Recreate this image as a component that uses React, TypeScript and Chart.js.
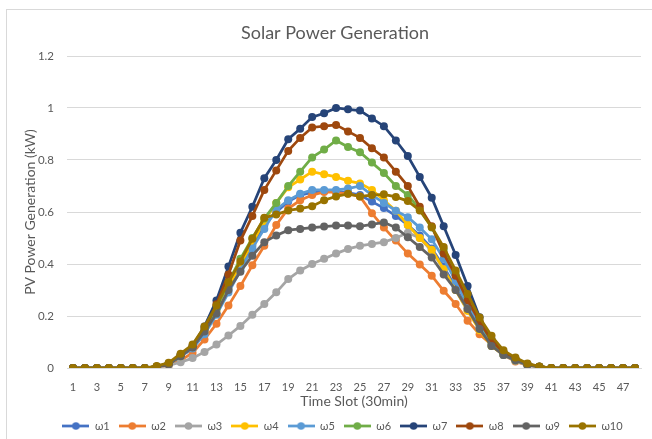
import React, { useEffect, useRef } from "react";
import { Chart, registerables } from "chart.js";

Chart.register(...registerables);

const chartTitle = "Solar Power Generation";

const timeSlots = ["1","2","3","4","5","6","7","8","9","10","11","12","13","14","15","16","17","18","19","20","21","22","23","24","25","26","27","28","29","30","31","32","33","34","35","36","37","38","39","40","41","42","43","44","45","46","47","48"];

const yTicks = [0, 0.2, 0.4, 0.6, 0.8, 1, 1.2];

const seriesNames = ["ω1","ω2","ω3","ω4","ω5","ω6","ω7","ω8","ω9","ω10"];
const seriesColors = ["#4472C4","#ED7D31","#A5A5A5","#FFC000","#5B9BD5","#70AD47","#264478","#9E480E","#636363","#997300"];

const w1 = [0,0,0,0,0,0,0,0.005,0.015,0.045,0.075,0.135,0.21,0.3,0.385,0.47,0.55,0.6,0.64,0.665,0.675,0.68,0.68,0.675,0.665,0.64,0.615,0.585,0.55,0.51,0.46,0.39,0.31,0.23,0.15,0.085,0.05,0.03,0.012,0.005,0,0,0,0,0,0,0,0];
const w2 = [0,0,0,0,0,0,0,0.003,0.01,0.03,0.058,0.11,0.17,0.24,0.315,0.395,0.47,0.55,0.613,0.645,0.665,0.677,0.675,0.67,0.66,0.595,0.54,0.49,0.44,0.398,0.355,0.297,0.246,0.182,0.13,0.09,0.05,0.025,0.01,0.004,0,0,0,0,0,0,0,0];
const w3 = [0,0,0,0,0,0,0,0.003,0.01,0.022,0.038,0.062,0.09,0.125,0.162,0.205,0.246,0.291,0.342,0.375,0.4,0.42,0.44,0.458,0.47,0.477,0.484,0.5,0.52,0.5,0.45,0.38,0.3,0.22,0.15,0.09,0.05,0.028,0.01,0.004,0,0,0,0,0,0,0,0];
const w4 = [0,0,0,0,0,0,0,0.005,0.015,0.045,0.08,0.14,0.22,0.31,0.4,0.48,0.565,0.635,0.695,0.725,0.755,0.745,0.735,0.72,0.71,0.685,0.645,0.605,0.55,0.5,0.455,0.38,0.3,0.22,0.145,0.085,0.05,0.03,0.012,0.005,0,0,0,0,0,0,0,0];
const w5 = [0,0,0,0,0,0,0,0.005,0.015,0.045,0.075,0.13,0.205,0.29,0.375,0.46,0.535,0.61,0.645,0.67,0.685,0.685,0.685,0.69,0.7,0.665,0.635,0.605,0.58,0.54,0.495,0.42,0.335,0.245,0.16,0.09,0.05,0.03,0.012,0.005,0,0,0,0,0,0,0,0];
const w6 = [0,0,0,0,0,0,0,0.005,0.015,0.05,0.08,0.15,0.23,0.33,0.42,0.5,0.575,0.635,0.7,0.755,0.81,0.84,0.875,0.85,0.83,0.79,0.75,0.7,0.665,0.61,0.54,0.455,0.365,0.27,0.18,0.1,0.055,0.03,0.015,0.005,0,0,0,0,0,0,0,0];
const w7 = [0,0,0,0,0,0,0,0.005,0.015,0.05,0.085,0.16,0.26,0.39,0.52,0.62,0.73,0.8,0.88,0.92,0.965,0.98,1.0,0.995,0.99,0.96,0.93,0.875,0.815,0.735,0.655,0.545,0.435,0.315,0.195,0.11,0.06,0.035,0.015,0.005,0,0,0,0,0,0,0,0];
const w8 = [0,0,0,0,0,0,0,0.005,0.015,0.05,0.08,0.15,0.245,0.36,0.49,0.585,0.685,0.76,0.835,0.885,0.925,0.93,0.935,0.91,0.885,0.845,0.81,0.755,0.7,0.62,0.545,0.44,0.355,0.26,0.18,0.105,0.06,0.035,0.015,0.005,0,0,0,0,0,0,0,0];
const w9 = [0,0,0,0,0,0,0,0.005,0.015,0.045,0.08,0.14,0.21,0.3,0.37,0.432,0.484,0.51,0.53,0.535,0.54,0.544,0.548,0.548,0.545,0.552,0.56,0.54,0.503,0.465,0.425,0.36,0.3,0.227,0.15,0.085,0.05,0.03,0.012,0.005,0,0,0,0,0,0,0,0];
const w10 = [0,0,0,0,0,0,0,0.008,0.02,0.055,0.09,0.16,0.24,0.33,0.41,0.497,0.578,0.59,0.606,0.613,0.622,0.645,0.66,0.67,0.66,0.665,0.668,0.658,0.642,0.606,0.542,0.465,0.375,0.285,0.194,0.124,0.068,0.04,0.017,0.006,0,0,0,0,0,0,0,0];

const seriesValues = [w1, w2, w3, w4, w5, w6, w7, w8, w9, w10];

const FONT = "Lato, Carlito, Calibri, 'Open Sans', sans-serif";
const TEXT = "#595959";

function legendIcon(color: string): HTMLCanvasElement {
  const c = document.createElement("canvas");
  c.width = 27;
  c.height = 8;
  const ctx = c.getContext("2d")!;
  ctx.strokeStyle = color;
  ctx.lineWidth = 2.75;
  ctx.beginPath();
  ctx.moveTo(0, 4);
  ctx.lineTo(27, 4);
  ctx.stroke();
  ctx.fillStyle = color;
  ctx.beginPath();
  ctx.arc(13.5, 4, 3.8, 0, Math.PI * 2);
  ctx.fill();
  return c;
}

const titlePlugin = {
  id: "excelTitle",
  afterLayout(chart: any) {
    const lg = chart.legend;
    if (lg) {
      lg.left += 22;
      lg.right += 22;
    }
  },
  afterDraw(chart: any) {
    const ctx = chart.ctx;
    ctx.save();
    ctx.font = `18px ${FONT}`;
    ctx.fillStyle = TEXT;
    ctx.textAlign = "center";
    ctx.textBaseline = "middle";
    ctx.fillText(chartTitle, 335, 33);
    ctx.restore();
  },
};

export default function App() {
  const ref = useRef<HTMLCanvasElement | null>(null);

  useEffect(() => {
    document.body.style.margin = "0";
    if (!ref.current) return;
    const icons = seriesColors.map(legendIcon);
    const chart = new Chart(ref.current, {
      type: "line",
      data: {
        labels: timeSlots,
        datasets: seriesNames.map((name, i) => ({
          label: name,
          data: seriesValues[i],
          borderColor: seriesColors[i],
          backgroundColor: seriesColors[i],
          pointBackgroundColor: seriesColors[i],
          pointBorderColor: seriesColors[i],
          pointStyle: "circle",
          pointRadius: 4,
          pointBorderWidth: 0,
          borderWidth: 2.75,
          order: seriesNames.length - i,
          tension: 0,
        })) as any,
      },
      plugins: [titlePlugin],
      options: {
        animation: false,
        responsive: false,
        maintainAspectRatio: false,
        layout: { padding: { left: 0, right: 11, top: 56, bottom: -2.5 } },
        plugins: {
          title: { display: false },
          legend: {
            position: "bottom",
            labels: {
              usePointStyle: true,
              pointStyleWidth: 27,
              boxHeight: 8,
              color: TEXT,
              padding: 9,
              font: { family: FONT, size: 11 },
              sort: (a: any, b: any) => a.datasetIndex - b.datasetIndex,
              generateLabels: (ch: any) =>
                ch.data.datasets.map((ds: any, i: number) => ({
                  text: ds.label,
                  fillStyle: seriesColors[i],
                  strokeStyle: seriesColors[i],
                  lineWidth: 0,
                  pointStyle: icons[i],
                  datasetIndex: i,
                  hidden: false,
                  fontColor: TEXT,
                })),
            },
          },
          tooltip: { enabled: false },
        },
        scales: {
          x: {
            offset: true,
            afterFit: (s: any) => {
              s.height = 43.5;
            },
            grid: { display: false, drawTicks: false },
            border: { display: true, color: "#d9d9d9", width: 1 },
            ticks: {
              autoSkip: false,
              maxRotation: 0,
              minRotation: 0,
              padding: 12.5,
              color: TEXT,
              font: { family: FONT, size: 11 },
              callback: (_v: any, idx: number) => (idx % 2 === 0 ? timeSlots[idx] : ""),
            },
            title: {
              display: true,
              text: "Time Slot (30min)",
              color: TEXT,
              font: { family: FONT, size: 14 },
              padding: { top: 1, bottom: 1.5 },
            },
          },
          y: {
            min: 0,
            max: 1.2,
            afterFit: (s: any) => {
              s.width = 67;
            },
            afterBuildTicks: (s: any) => {
              s.ticks = yTicks.map((v) => ({ value: v }));
            },
            grid: { color: "#d9d9d9", drawTicks: false, lineWidth: 1 },
            border: { display: false },
            ticks: {
              padding: 13,
              color: TEXT,
              font: { family: FONT, size: 11.5 },
              callback: (v: any) => String(Number(Number(v).toFixed(1))),
            },
            title: {
              display: true,
              text: "PV Power Generation (kW)",
              color: TEXT,
              font: { family: FONT, size: 14 },
              padding: { top: 22, bottom: 22 },
            },
          },
        },
      },
    });
    return () => chart.destroy();
  }, []);

  return (
    <div style={{ position: "relative", width: 652, height: 439, overflow: "hidden", background: "#fff" }}>
      <canvas ref={ref} width={652} height={439} style={{ display: "block" }} />
      <div
        style={{
          position: "absolute",
          left: 6,
          top: 9,
          width: 700,
          height: 500,
          border: "1px solid #d9d9d9",
          pointerEvents: "none",
        }}
      />
    </div>
  );
}
